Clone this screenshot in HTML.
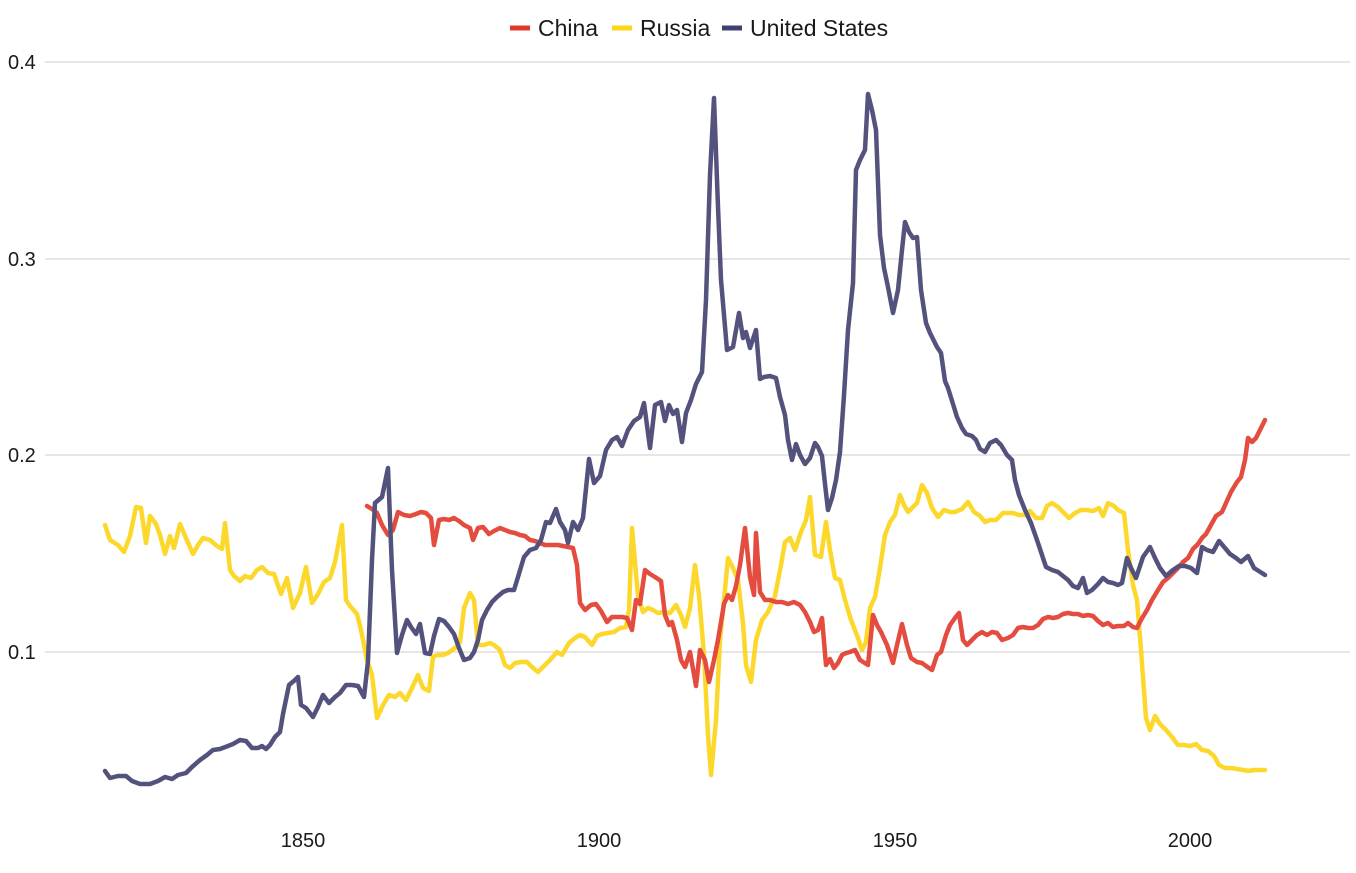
<!DOCTYPE html>
<html><head><meta charset="utf-8"><style>
html,body{margin:0;padding:0;background:#fff;}
svg{display:block;font-family:"Liberation Sans",sans-serif;}
</style></head><body>
<svg width="1356" height="873" viewBox="0 0 1356 873">
<g stroke="#cccccc" stroke-width="1">
<line x1="45" y1="62" x2="1350" y2="62"/>
<line x1="45" y1="259" x2="1350" y2="259"/>
<line x1="45" y1="455" x2="1350" y2="455"/>
<line x1="45" y1="652" x2="1350" y2="652"/>
</g>
<g font-size="20" fill="#1a1a1a">
<text x="8" y="69">0.4</text>
<text x="8" y="266">0.3</text>
<text x="8" y="462">0.2</text>
<text x="8" y="659">0.1</text>
<text x="303" y="847" text-anchor="middle">1850</text>
<text x="599" y="847" text-anchor="middle">1900</text>
<text x="895" y="847" text-anchor="middle">1950</text>
<text x="1190" y="847" text-anchor="middle">2000</text>
</g>
<g font-size="23" fill="#1a1a1a">
<line x1="510" y1="28" x2="530" y2="28" stroke="#e0392b" stroke-width="5"/>
<text x="538" y="36">China</text>
<line x1="612" y1="28" x2="632" y2="28" stroke="#fdd416" stroke-width="5"/>
<text x="640" y="36">Russia</text>
<line x1="722" y1="28" x2="742" y2="28" stroke="#414070" stroke-width="5"/>
<text x="750" y="36">United States</text>
</g>
<g fill="none" stroke-width="4.5" stroke-linejoin="round" stroke-linecap="round" opacity="0.9">
<polyline stroke="#fdd416" points="105,525 110,540 118,545 124,552 130,536 136,507 141,508 146,543 150,516 156,524 160,535 165,554 170,536 174,548 180,524 186,538 193,554 198,545 203,538 210,540 217,546 222,549 225,523 230,570 234,576 240,581 245,576 251,578 257,570 262,567 268,573 274,574 281,594 287,578 293,608 300,593 306,567 312,603 318,594 324,582 330,578 335,562 342,525 346,600 350,606 357,614 361,630 367,660 372,675 377,718 383,705 389,695 395,697 400,693 406,700 411,690 418,675 423,688 429,691 433,657 437,655 443,655 448,653 455,648 460,642 464,608 470,593 474,600 478,645 484,645 490,643 494,645 500,650 505,665 510,668 515,663 521,662 527,662 532,667 538,672 544,666 550,660 557,652 562,655 569,643 575,638 580,635 585,637 592,645 597,636 602,634 608,633 614,632 620,628 626,627 629,610 632,528 638,596 643,612 648,608 653,610 658,613 664,612 670,613 676,605 681,615 685,627 690,608 695,565 699,595 704,655 708,735 711,775 716,720 720,640 724,600 728,558 733,568 738,580 743,623 746,665 751,682 756,640 762,620 768,612 775,596 781,565 785,542 790,538 795,550 801,532 806,520 810,497 815,555 821,557 826,522 830,550 835,578 840,580 845,600 851,620 858,638 862,650 866,642 870,608 875,597 880,568 885,535 890,522 895,515 900,495 904,505 908,512 912,508 917,503 922,485 927,493 932,508 938,517 944,510 950,512 955,512 962,509 968,502 974,512 980,516 985,522 990,520 996,520 1003,513 1008,513 1013,513 1019,515 1025,515 1030,511 1036,518 1042,518 1047,506 1052,503 1058,507 1063,512 1069,518 1075,513 1081,510 1087,510 1093,511 1099,508 1103,516 1108,503 1114,506 1118,510 1124,513 1128,550 1133,585 1137,600 1141,650 1146,718 1150,730 1155,716 1160,724 1166,730 1172,737 1178,745 1184,745 1190,746 1196,744 1202,750 1208,751 1214,756 1219,765 1225,768 1231,768 1237,769 1243,770 1249,771 1254,770 1265,770"/>
<polyline stroke="#e0392b" points="367,506 372,509 377,513 382,525 388,535 393,530 398,512 404,515 410,516 416,514 421,512 426,513 431,518 434,545 439,520 444,519 449,520 454,518 459,521 464,525 470,528 473,540 478,528 483,527 489,534 494,531 500,528 505,530 510,532 515,533 520,535 525,536 530,540 535,541 540,543 545,545 552,545 558,545 563,546 568,547 573,548 577,565 580,603 585,610 591,605 596,604 601,611 607,622 612,617 617,617 622,617 627,618 632,630 636,600 640,604 645,570 650,574 655,577 661,581 665,615 669,625 672,622 677,640 681,660 685,667 690,652 696,686 700,650 705,660 709,682 714,660 718,640 724,604 728,595 732,600 736,586 740,565 745,528 750,577 754,595 756,533 760,592 765,600 770,600 776,602 782,602 788,604 794,602 800,605 805,612 810,622 814,632 818,630 822,618 826,665 830,659 834,668 838,663 842,655 846,653 850,652 855,650 860,660 868,665 873,615 877,625 881,632 887,645 893,663 897,645 902,624 907,645 911,658 917,662 922,663 926,666 932,670 937,655 941,652 946,635 950,625 955,618 959,613 963,640 967,645 972,640 977,635 982,632 987,635 992,632 997,633 1002,640 1008,638 1013,635 1018,628 1023,627 1028,628 1033,628 1038,625 1043,619 1048,617 1053,618 1058,617 1063,614 1068,613 1073,614 1078,614 1083,616 1088,615 1093,616 1098,621 1103,625 1108,623 1113,627 1118,626 1124,626 1128,623 1133,627 1137,628 1141,620 1147,610 1152,600 1158,590 1163,582 1168,578 1173,573 1178,568 1183,562 1188,558 1193,549 1198,544 1202,538 1206,534 1211,525 1216,516 1222,512 1226,503 1231,492 1237,482 1241,477 1245,460 1248,438 1252,442 1256,438 1260,430 1265,420"/>
<polyline stroke="#414070" points="105,771 110,778 118,776 126,776 132,781 140,784 150,784 158,781 165,777 172,779 178,775 186,773 192,767 200,760 207,755 213,750 220,749 228,746 233,744 240,740 246,741 252,748 258,748 262,746 266,749 270,745 275,737 280,732 283,714 289,685 295,680 298,677 301,705 306,708 313,717 318,707 323,695 329,703 335,697 340,693 346,685 352,685 358,686 364,697 368,661 372,560 375,503 382,497 388,468 392,570 397,653 402,635 407,620 411,627 416,634 420,624 425,653 430,654 434,636 439,619 444,621 449,627 454,634 459,648 464,660 470,658 474,652 478,640 482,620 487,610 492,602 497,597 503,592 508,590 514,590 518,577 524,557 530,550 536,548 541,540 546,522 550,523 556,509 560,522 565,530 568,543 573,522 578,530 583,518 589,459 594,483 600,476 606,450 612,440 617,437 622,446 628,430 634,421 640,417 644,403 650,448 655,405 661,402 665,421 669,405 673,414 677,410 682,442 686,413 691,400 696,384 702,372 706,300 710,175 714,98 718,207 721,280 727,350 733,347 739,313 743,338 746,332 750,348 756,330 760,379 764,377 770,376 776,378 780,397 785,415 788,440 792,460 796,444 800,455 805,464 810,458 815,443 818,447 822,456 825,484 828,510 832,498 836,480 840,452 844,395 848,330 853,283 856,170 860,160 865,150 868,94 872,110 876,130 880,235 884,268 888,287 893,313 898,290 902,250 905,222 909,232 913,238 917,237 921,290 926,323 930,333 937,347 941,353 945,381 948,388 953,404 957,417 962,428 966,434 972,436 976,440 980,449 985,452 990,443 996,440 1001,445 1007,455 1012,460 1015,480 1019,495 1025,510 1031,523 1037,540 1042,555 1046,567 1052,570 1058,572 1063,576 1068,580 1073,586 1078,588 1083,578 1087,593 1092,590 1098,584 1103,578 1108,582 1113,583 1118,585 1122,583 1127,558 1131,568 1136,578 1143,557 1150,547 1155,558 1160,568 1166,576 1173,570 1179,566 1185,566 1191,568 1197,573 1202,547 1207,550 1213,552 1219,541 1225,548 1230,554 1236,558 1241,562 1248,556 1254,568 1265,575"/>
</g>
</svg>
</body></html>
